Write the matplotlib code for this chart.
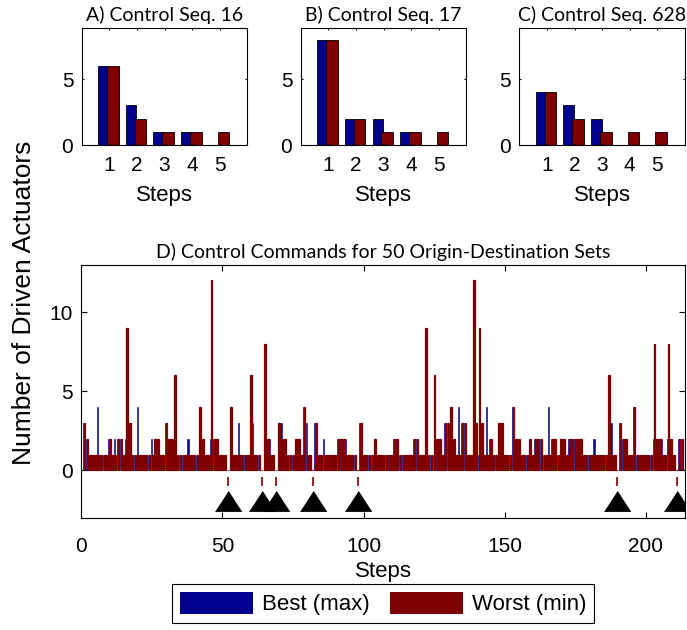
import matplotlib
matplotlib.use('Agg')
import matplotlib.pyplot as plt
from matplotlib.patches import Patch
import numpy as np

plt.rcParams['font.family'] = ['Liberation Sans', 'DejaVu Sans']

blue = '#00008f'
red = '#800000'
title_font = 'Lato'

# small panels A-C
small_titles = ['A) Control Seq. 16', 'B) Control Seq. 17', 'C) Control Seq. 628']
small_steps = [1, 2, 3, 4, 5]
small_best = [[6, 3, 1, 1, 0], [8, 2, 2, 1, 0], [4, 3, 2, 0, 0]]
small_worst = [[6, 2, 1, 1, 1], [8, 2, 1, 1, 1], [4, 2, 1, 1, 1]]

# panel D, steps 1..213
big_worst = [3, 2, 1, 1, 1, 1, 1, 1, 1, 2,
             1, 1, 2, 2, 1, 9, 3, 1, 1, 1,
             1, 1, 1, 1, 1, 2, 2, 1, 1, 3,
             2, 2, 6, 1, 1, 1, 1, 1, 1, 1,
             1, 4, 2, 1, 1, 12, 2, 2, 1, 1,
             1, 0, 4, 1, 1, 1, 1, 1, 1, 6,
             1, 1, 1, 0, 8, 2, 1, 1, 0, 3,
             2, 2, 1, 1, 1, 2, 2, 1, 4, 1,
             1, 0, 3, 1, 1, 1, 1, 1, 1, 1,
             2, 2, 2, 1, 1, 1, 1, 0, 3, 1,
             1, 1, 1, 2, 1, 1, 1, 1, 1, 1,
             2, 2, 1, 1, 1, 1, 1, 2, 2, 1,
             1, 9, 1, 1, 6, 2, 2, 1, 3, 3,
             4, 2, 1, 1, 3, 3, 1, 1, 12, 3,
             9, 3, 1, 1, 2, 1, 1, 3, 3, 1,
             1, 1, 4, 2, 2, 1, 1, 1, 2, 1,
             2, 2, 2, 1, 1, 1, 2, 2, 1, 2,
             2, 1, 2, 2, 2, 2, 2, 1, 1, 1,
             1, 1, 1, 1, 1, 1, 6, 1, 1, 0,
             3, 2, 2, 1, 1, 4, 1, 1, 1, 1,
             1, 1, 8, 2, 2, 1, 1, 8, 2, 1,
             0, 2, 2]
big_best = [3, 2, 1, 1, 1, 4, 1, 1, 1, 2,
            1, 2, 2, 2, 1, 2, 3, 1, 1, 4,
            1, 1, 1, 1, 2, 2, 2, 1, 1, 3,
            2, 2, 1, 1, 1, 1, 1, 2, 1, 1,
            1, 4, 2, 1, 1, 2, 2, 2, 1, 1,
            1, 0, 4, 1, 1, 3, 1, 1, 1, 1,
            3, 1, 1, 0, 2, 2, 2, 1, 0, 3,
            3, 2, 1, 1, 1, 2, 2, 1, 4, 3,
            1, 0, 3, 1, 1, 2, 1, 1, 1, 1,
            2, 2, 2, 2, 1, 1, 1, 0, 3, 1,
            1, 1, 1, 2, 1, 1, 1, 1, 1, 1,
            2, 2, 1, 1, 1, 1, 1, 2, 2, 1,
            1, 1, 1, 1, 1, 2, 2, 1, 3, 3,
            4, 2, 1, 4, 3, 3, 1, 1, 1, 3,
            1, 3, 1, 4, 2, 1, 1, 3, 3, 1,
            1, 1, 4, 2, 2, 1, 1, 1, 2, 1,
            2, 2, 2, 1, 1, 4, 2, 2, 1, 2,
            2, 1, 2, 2, 2, 2, 2, 1, 1, 1,
            1, 2, 1, 1, 1, 1, 1, 3, 1, 0,
            3, 2, 2, 1, 1, 4, 1, 1, 1, 1,
            1, 1, 2, 2, 2, 2, 1, 2, 2, 1,
            0, 2, 2]
seq_ends = [52, 64, 69, 82, 98, 190, 211]

fig = plt.figure(figsize=(6.87, 6.30), dpi=100)

lefts = [0.1189, 0.4377, 0.7559]
for k in range(3):
    ax = fig.add_axes([lefts[k], 0.7698, 0.2412, 0.1852])
    x = np.array(small_steps)
    ax.bar(x - 0.21, small_best[k], width=0.38, color=blue, edgecolor='k', linewidth=0.6)
    ax.bar(x + 0.13, small_worst[k], width=0.42, color=red, edgecolor='k', linewidth=0.6)
    ax.set_xlim(0, 6)
    ax.set_ylim(0, 8.85)
    ax.set_xticks(small_steps)
    ax.set_yticks([0, 5])
    ax.tick_params(direction='in', length=1.5, labelsize=15, top=True, right=True)
    ax.tick_params(axis='x', pad=8)
    ax.tick_params(axis='y', pad=6)
    ax.set_xlabel('Steps', fontsize=16, labelpad=7)
    ax.set_title(small_titles[k], fontsize=14, family=title_font, pad=5)

ax = fig.add_axes([0.1186, 0.1778, 0.8785, 0.4022])
steps = np.arange(1, len(big_worst) + 1)
ax.bar(steps - 0.25, big_best, width=0.4, color=blue, edgecolor=blue, linewidth=0.4)
ax.bar(steps + 0.12, big_worst, width=0.56, color=red, edgecolor=red, linewidth=0.9)
ax.vlines(seq_ends, -1.0, -0.4, color=red, linewidth=1.2)
ax.plot(seq_ends, [-1.9] * len(seq_ends), linestyle='none',
        marker=[(-1, -0.77), (1, -0.77), (0, 0.77)], markersize=19,
        color='k', markeredgewidth=0.5)
ax.set_xlim(0, 214)
ax.set_ylim(-3, 13)
ax.set_xticks([0, 50, 100, 150, 200])
ax.set_yticks([0, 5, 10])
ax.tick_params(direction='in', length=4.3, labelsize=15, top=True, right=True)
ax.tick_params(axis='x', pad=14)
ax.tick_params(axis='y', pad=6)
ax.set_xlabel('Steps', fontsize=16, labelpad=3)
ax.set_title('D) Control Commands for 50 Origin-Destination Sets', fontsize=14,
             family=title_font, pad=5)

fig.text(0.035, 0.519, 'Number of Driven Actuators', rotation=90, fontsize=19,
         ha='center', va='center')

handles = [Patch(facecolor=blue, edgecolor='none'), Patch(facecolor=red, edgecolor='none')]
leg = fig.legend(handles, ['Best (max)', 'Worst (min)'], ncol=2, loc='center',
                 bbox_to_anchor=(0.558, 0.042), fontsize=16, handlelength=3.3,
                 handleheight=1.15, handletextpad=0.4, columnspacing=0.9,
                 fancybox=False, edgecolor='k', framealpha=1, borderpad=0.35)
leg.get_frame().set_linewidth(0.8)

fig.savefig('out.png', dpi=100)
